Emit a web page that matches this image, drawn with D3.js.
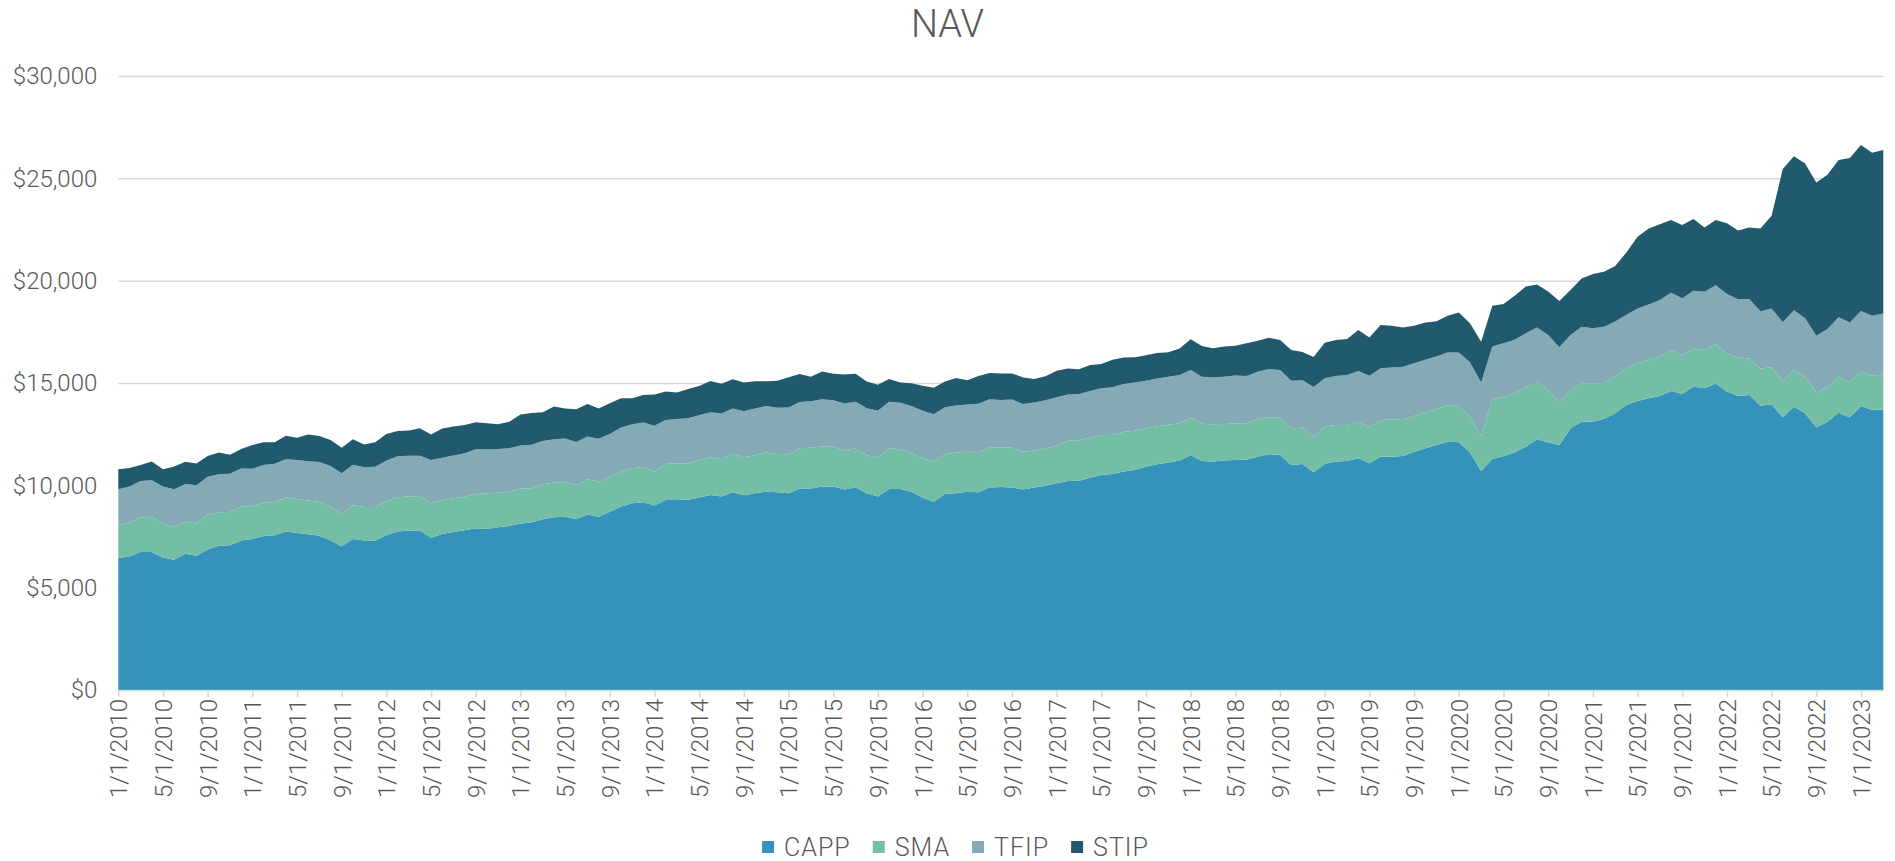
<!DOCTYPE html>
<html>
<head>
<meta charset="utf-8">
<script src="https://cdn.jsdelivr.net/npm/d3@7"></script>
<style>
  body { margin: 0; background: #fff; }
  svg text { font-family: Roboto, "Liberation Sans", sans-serif; font-weight: 300; fill: #595959; }
</style>
</head>
<body>
<svg id="chart"></svg>
<script>
// NAV stacked area, monthly 1/2010 - 3/2023
const startYear = 2010;
const seriesNames = ['CAPP', 'SMA', 'TFIP', 'STIP'];
const seriesColors = ['#3593bb', '#75bea6', '#84aab5', '#215a6e'];
const yTicks = [0, 5000, 10000, 15000, 20000, 25000, 30000];

const CAPP = [
    6450, 6520, 6740, 6740, 6470, 6370, 6660, 6560, 6870, 7050, 7070, 7310, 7380, 7520, 7560, 7740, 7670, 7610, 7540, 7310, 7020, 7380, 7300, 7300, 7560, 7740, 7790, 7790,
    7440, 7620, 7720, 7800, 7900, 7870, 7950, 8010, 8140, 8180, 8340, 8440, 8470, 8340, 8570, 8470, 8710, 8960, 9120, 9170, 9010, 9280, 9280, 9300, 9410, 9530, 9460,
    9660, 9510, 9610, 9690, 9660, 9610, 9850, 9850, 9940, 9940, 9800, 9890, 9610, 9450, 9820, 9820, 9690, 9410, 9200, 9580, 9610, 9690, 9660, 9890, 9920, 9900,
    9800, 9890, 9980, 10100, 10210, 10230, 10370, 10510, 10550, 10670, 10750, 10910, 11030, 11120, 11210, 11470, 11190, 11160, 11210, 11240, 11250, 11400, 11520, 11480, 10990, 11040, 10640,
    11040, 11160, 11190, 11320, 11080, 11400, 11400, 11430, 11630, 11810, 11970, 12130, 12100, 11600, 10700, 11290, 11430, 11600, 11890, 12250, 12090, 11970, 12790, 13110, 13110, 13250,
    13520, 13930, 14120, 14250, 14370, 14610, 14460, 14820, 14740, 14980, 14580, 14370, 14410, 13890, 13960, 13310, 13840, 13520, 12830, 13110, 13550, 13310, 13880, 13680, 13710
];
const SMA = [
    1600, 1660, 1690, 1730, 1680, 1600, 1560, 1580, 1710, 1630, 1630, 1650, 1610, 1630, 1630, 1680, 1660, 1650, 1650, 1650, 1580, 1650, 1640, 1640, 1660, 1680, 1660, 1690,
    1680, 1660, 1650, 1650, 1680, 1740, 1690, 1680, 1710, 1680, 1710, 1690, 1690, 1680, 1730, 1710, 1710, 1710, 1710, 1730, 1650, 1780, 1790, 1780, 1820, 1840, 1820,
    1870, 1860, 1870, 1910, 1870, 1910, 1960, 1990, 1960, 1940, 1920, 1910, 1860, 1910, 1990, 1940, 1910, 1910, 1960, 1940, 1990, 1950, 1970, 1950, 1940, 1940,
    1840, 1810, 1820, 1840, 1970, 1970, 1960, 1950, 1910, 1950, 1920, 1870, 1860, 1840, 1820, 1840, 1820, 1820, 1790, 1780, 1780, 1840, 1810, 1820, 1790, 1790, 1740,
    1830, 1790, 1760, 1790, 1760, 1790, 1820, 1760, 1760, 1760, 1760, 1790, 1780, 1760, 1710, 2920, 2900, 2900, 2900, 2770, 2570, 2090, 1870, 1870, 1870, 1750,
    1820, 1790, 1870, 1870, 1920, 2000, 1890, 1870, 1870, 1910, 1870, 1870, 1790, 1820, 1810, 1760, 1820, 1790, 1690, 1710, 1760, 1730, 1680, 1680, 1710
];
const TFIP = [
    1760, 1760, 1780, 1780, 1790, 1840, 1840, 1870, 1840, 1860, 1860, 1860, 1820, 1840, 1860, 1860, 1910, 1920, 1950, 1990, 1990, 1970, 1940, 1970, 1990, 2000, 1990, 1970,
    2120, 2070, 2090, 2120, 2180, 2150, 2130, 2120, 2100, 2120, 2120, 2120, 2130, 2100, 2090, 2090, 2090, 2150, 2150, 2170, 2250, 2130, 2170, 2200, 2200, 2200, 2230,
    2230, 2250, 2280, 2280, 2260, 2280, 2260, 2270, 2310, 2280, 2280, 2280, 2300, 2280, 2280, 2280, 2280, 2330, 2310, 2300, 2300, 2310, 2360, 2360, 2310, 2350,
    2330, 2350, 2360, 2360, 2260, 2260, 2280, 2280, 2330, 2330, 2350, 2330, 2330, 2350, 2360, 2330, 2300, 2300, 2310, 2350, 2310, 2310, 2350, 2330, 2330, 2310, 2420,
    2360, 2390, 2440, 2480, 2510, 2530, 2540, 2610, 2570, 2560, 2560, 2570, 2610, 2650, 2610, 2570, 2610, 2610, 2640, 2690, 2690, 2690, 2690, 2770, 2690, 2750,
    2660, 2610, 2650, 2720, 2770, 2800, 2790, 2820, 2850, 2880, 2900, 2850, 2900, 2800, 2870, 2900, 2900, 2850, 2790, 2820, 2900, 2920, 2960, 2930, 2980
];
const STIP = [
    980, 910, 780, 910, 850, 1110, 1090, 1060, 1010, 1060, 930, 960, 1160, 1110, 1060, 1140, 1090, 1300, 1270, 1270, 1250, 1250, 1120, 1190, 1300, 1240, 1240, 1340,
    1240, 1430, 1420, 1380, 1320, 1270, 1210, 1300, 1510, 1550, 1400, 1600, 1470, 1600, 1580, 1480, 1500, 1430, 1270, 1340, 1530, 1400, 1300, 1430, 1420, 1530, 1450,
    1420, 1400, 1320, 1210, 1320, 1480, 1370, 1200, 1350, 1290, 1420, 1370, 1300, 1270, 1110, 990, 1110, 1220, 1300, 1250, 1340, 1190, 1350, 1290, 1300, 1280,
    1300, 1140, 1170, 1300, 1270, 1210, 1270, 1190, 1340, 1290, 1240, 1250, 1240, 1190, 1300, 1500, 1500, 1420, 1470, 1450, 1600, 1510, 1530, 1470, 1500, 1380, 1470,
    1740, 1760, 1760, 2000, 1870, 2120, 2040, 1910, 1840, 1820, 1730, 1790, 1950, 1910, 2000, 2000, 1920, 2150, 2280, 2100, 2120, 2260, 2200, 2360, 2660, 2680,
    2720, 3050, 3500, 3710, 3700, 3550, 3580, 3500, 3140, 3190, 3450, 3360, 3500, 4040, 4530, 7480, 7520, 7570, 7490, 7530, 7690, 8030, 8110, 7960, 7980
];

(function() {
    const width = 1895, height = 861;
    const margin = { left: 118.3, right: 11.7, top: 76, bottom: 171 };
    const svg = d3.select('#chart').attr('width', width).attr('height', height);

    // month labels, M/1/YYYY
    const dateLabel = i => ((i % 12) + 1) + '/1/' + (startYear + Math.floor(i / 12));

    const rows = CAPP.map((v, i) => ({ i, CAPP: v, SMA: SMA[i], TFIP: TFIP[i], STIP: STIP[i] }));
    const stacked = d3.stack().keys(seriesNames)(rows);

    const x = d3.scaleLinear().domain([0, rows.length - 1]).range([margin.left, width - margin.right]);
    const y = d3.scaleLinear().domain([0, 30000]).range([height - margin.bottom, margin.top]);

    // Gridlines + y labels
    const yAxis = svg.append('g')
        .attr('transform', 'translate(' + margin.left + ',0)')
        .call(d3.axisLeft(y).tickValues(yTicks).tickSize(-(width - margin.left - margin.right)).tickPadding(21)
            .tickFormat(d => '$' + d3.format(',')(d)));
    yAxis.select('.domain').remove();
    yAxis.selectAll('line').attr('stroke', '#d9d9d9').attr('stroke-width', 1.5);
    yAxis.selectAll('text').attr('font-size', 24).style('fill', '#595959');

    // Areas
    const area = d3.area()
        .x(d => x(d.data.i))
        .y0(d => y(d[0]))
        .y1(d => y(d[1]));
    svg.append('g').selectAll('path').data(stacked).enter().append('path')
        .attr('d', area)
        .attr('fill', (d, k) => seriesColors[k]);

    // X axis
    const tickIdx = d3.range(0, rows.length, 4);
    const xAxis = svg.append('g')
        .attr('transform', 'translate(0,' + y(0) + ')')
        .call(d3.axisBottom(x).tickValues(tickIdx).tickSize(7).tickSizeOuter(0).tickFormat(dateLabel));
    xAxis.select('.domain').attr('stroke', '#d9d9d9').attr('stroke-width', 1.5);
    xAxis.selectAll('line').attr('stroke', '#d9d9d9').attr('stroke-width', 1.5);
    xAxis.selectAll('text')
        .attr('font-size', 24)
        .attr('transform', 'rotate(-90)')
        .attr('text-anchor', 'end')
        .attr('x', -9).attr('y', 0).attr('dy', '0.35em')
        .style('fill', '#595959');

    // Title
    svg.append('text')
        .attr('x', width / 2).attr('y', 37)
        .attr('text-anchor', 'middle')
        .attr('font-size', 38)
        .text('NAV');

    // Legend
    const legend = svg.append('g');
    const gap = 22;
    let lx = 0;
    seriesNames.forEach((name, k) => {
        const item = legend.append('g').attr('transform', 'translate(' + lx + ',0)');
        item.append('rect').attr('x', 0).attr('y', -6).attr('width', 12).attr('height', 12).attr('fill', seriesColors[k]);
        const t = item.append('text').attr('x', 22).attr('y', 0).attr('dy', '0.35em')
            .attr('font-size', 25).attr('letter-spacing', 1).text(name);
        lx += 22 + t.node().getComputedTextLength() + gap;
    });
    lx -= gap;
    legend.attr('transform', 'translate(' + (width / 2 - lx / 2 + 8) + ',847)');
})();
</script>
</body>
</html>
